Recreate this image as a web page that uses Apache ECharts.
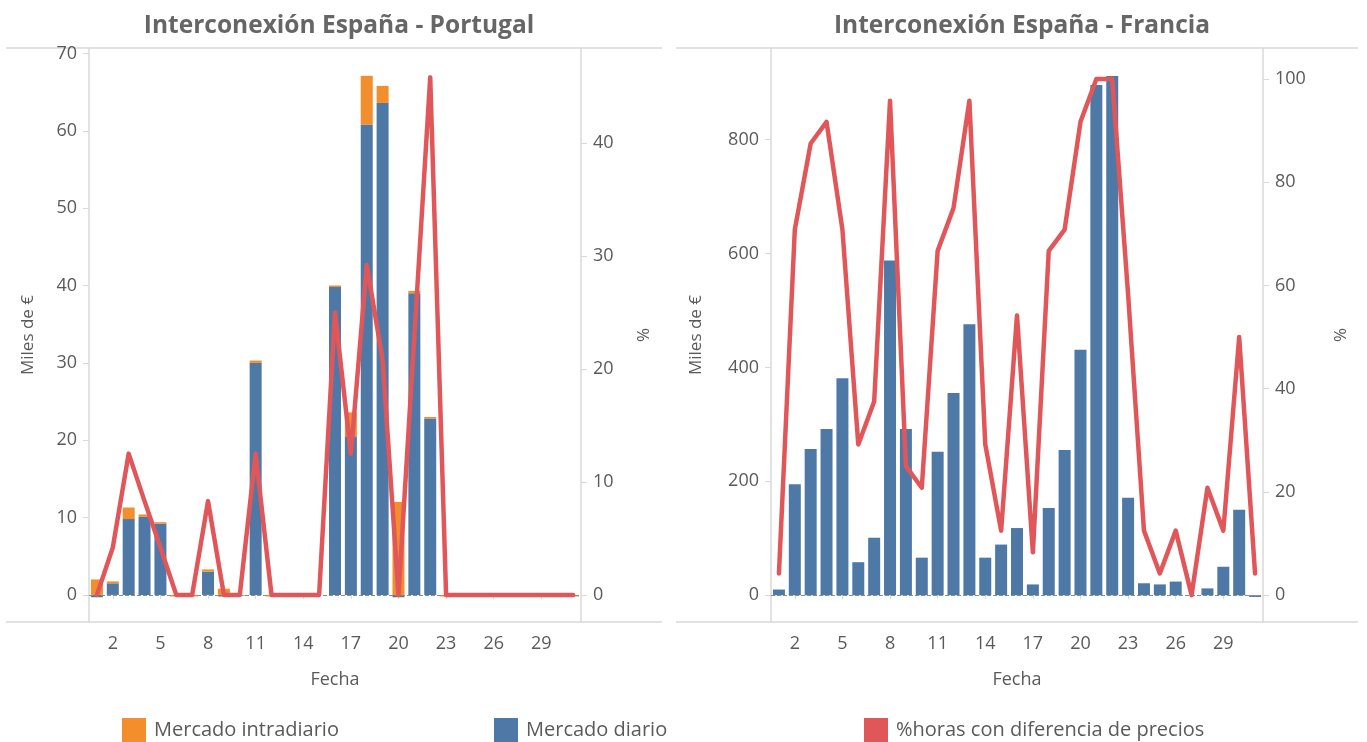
<!DOCTYPE html>
<html>
<head>
<meta charset="utf-8">
<title>Interconexiones</title>
<script src="https://cdn.jsdelivr.net/npm/echarts@6/dist/echarts.min.js"></script>
<style>
  html, body { margin: 0; padding: 0; background: #fff; }
  #main { width: 1367px; height: 742px; }
</style>
</head>
<body>
<div id="main"></div>
<script>
const dias = []
for (let d = 1; d <= 31; d++) dias.push(String(d))

// España - Portugal (miles de €)
const ptDiario = [-0.3, 1.5, 9.8, 10.1, 9.2, 0, 0, 3.0, -0.2, 0, 30.0, 0, 0, 0, 0, 39.8,
  20.5, 60.8, 63.6, -0.3, 39.0, 22.8, 0, 0, 0, 0, 0, 0, 0, 0, 0]
const ptIntradiario = [2.0, 0.25, 1.5, 0.3, 0.2, -0.2, -0.2, 0.3, 0.8, -0.1, 0.3, -0.2, 0, 0, 0, 0.2,
  3.1, 6.3, 2.2, 12.0, 0.3, 0.2, -0.2, 0, 0, 0, 0, 0, 0, 0, -0.2]
const ptHoras = [0, 4.2, 12.5, 8.3, 4.2, 0, 0, 8.3, 0, 0, 12.5, 0, 0, 0, 0, 25.0,
  12.5, 29.2, 20.8, 0, 22.9, 45.8, 0, 0, 0, 0, 0, 0, 0, 0, 0]

// España - Francia (miles de €)
const frDiario = [10, 195, 257, 292, 381, 58, 101, 588, 292, 66, 252, 355, 476, 66, 89, 118,
  19, 153, 255, 431, 896, 912, 171, 21, 19, 24, 0, 12, 50, 150, -3]
const frHoras = [4.2, 70.8, 87.5, 91.7, 70.8, 29.2, 37.5, 95.8, 25.0, 20.8, 66.7, 75.0, 95.8, 29.2, 12.5, 54.2,
  8.3, 66.7, 70.8, 91.7, 100, 100, 58.3, 12.5, 4.2, 12.5, 0, 20.8, 12.5, 50.0, 4.2]

const ptMilesTicks = [0, 10, 20, 30, 40, 50, 60, 70]
const ptPctTicks = [0, 10, 20, 30, 40]
const frMilesTicks = [0, 200, 400, 600, 800]
const frPctTicks = [0, 20, 40, 60, 80, 100]

const AZUL = '#4e79a7'
const NARANJA = '#f28e2b'
const ROJO = '#e15759'
const GRIS_EJE = '#d9d9d9'
const TEXTO = '#5a5a5a'
const FUENTE = '"Open Sans", Lato, sans-serif'

const chart = echarts.init(document.getElementById('main'))

function xAxisDe(grid) {
  return {
    type: 'category',
    gridIndex: grid,
    data: dias,
    name: 'Fecha',
    nameLocation: 'middle',
    nameGap: 49,
    nameTextStyle: { color: TEXTO, fontSize: 18, fontFamily: FUENTE },
    axisLine: { show: false },
    axisTick: {
      show: true,
      alignWithLabel: true,
      length: 4,
      interval: (i) => (i - 1) % 3 === 0,
      lineStyle: { color: GRIS_EJE }
    },
    axisLabel: {
      interval: (i) => (i - 1) % 3 === 0,
      color: TEXTO,
      fontSize: 18,
      fontFamily: FUENTE,
      margin: 13
    }
  }
}

function yAxisDe(grid, pos, min, max, ticks, name, nameGap, margin) {
  return {
    type: 'value',
    gridIndex: grid,
    position: pos,
    min: min,
    max: max,
    name: name,
    nameLocation: 'middle',
    nameRotate: 90,
    nameGap: nameGap,
    nameTextStyle: { color: TEXTO, fontSize: 17, fontFamily: FUENTE },
    splitLine: { show: false },
    axisLine: { show: true, lineStyle: { color: GRIS_EJE, width: 1.5 } },
    axisTick: { show: true, length: 6, customValues: ticks, lineStyle: { color: GRIS_EJE } },
    axisLabel: {
      customValues: ticks,
      color: TEXTO,
      fontSize: 18,
      fontFamily: FUENTE,
      margin: margin
    }
  }
}

const lineaCero = {
  silent: true,
  symbol: 'none',
  label: { show: false },
  lineStyle: { type: 'dashed', color: '#8c8c8c', width: 1 },
  data: [{ yAxis: 0 }]
}

const lineaRoja = {
  width: 4.5,
  color: ROJO,
  cap: 'round',
  join: 'round'
}

const textoTitulo = { color: '#666', fontSize: 24.5, fontWeight: 'bold', fontFamily: FUENTE }
const textoLeyenda = { color: TEXTO, fontSize: 20, fontFamily: FUENTE, padding: [0, 0, 0, 3] }

function leyenda(nombre, x) {
  return {
    data: [nombre], left: x, top: 718, padding: 0, icon: 'rect',
    itemWidth: 24, itemHeight: 24, textStyle: textoLeyenda
  }
}

chart.setOption({
  animation: false,
  title: [
    { text: 'Interconexión España - Portugal', left: 334, top: 9, textAlign: 'center', textStyle: textoTitulo },
    { text: 'Interconexión España - Francia', left: 1017, top: 9, textAlign: 'center', textStyle: textoTitulo }
  ],
  legend: [
    leyenda('Mercado intradiario', 122),
    leyenda('Mercado diario', 494),
    leyenda('%horas con diferencia de precios', 864)
  ],
  grid: [
    { left: 89, top: 48, width: 492, height: 574, outerBoundsMode: 'none' },
    { left: 771, top: 48, width: 492, height: 574, outerBoundsMode: 'none' }
  ],
  xAxis: [xAxisDe(0), xAxisDe(1)],
  yAxis: [
    yAxisDe(0, 'left', -3.5, 70.7, ptMilesTicks, 'Miles de €', 52, 12),
    yAxisDe(0, 'right', -2.4, 48.4, ptPctTicks, '%', 55, 12),
    yAxisDe(1, 'left', -47, 961, frMilesTicks, 'Miles de €', 66, 12),
    yAxisDe(1, 'right', -5.2, 106, frPctTicks, '%', 70, 12)
  ],
  graphic: [
    { type: 'line', shape: { x1: 6, y1: 48, x2: 662, y2: 48 }, style: { stroke: GRIS_EJE, lineWidth: 1.5 } },
    { type: 'line', shape: { x1: 676, y1: 48, x2: 1358, y2: 48 }, style: { stroke: GRIS_EJE, lineWidth: 1.5 } },
    { type: 'line', shape: { x1: 6, y1: 622, x2: 662, y2: 622 }, style: { stroke: GRIS_EJE, lineWidth: 1.5 } },
    { type: 'line', shape: { x1: 676, y1: 622, x2: 1358, y2: 622 }, style: { stroke: GRIS_EJE, lineWidth: 1.5 } }
  ],
  series: [
    {
      name: 'Mercado diario', type: 'bar', stack: 'pt', xAxisIndex: 0, yAxisIndex: 0,
      barWidth: 12, color: AZUL, data: ptDiario, markLine: lineaCero
    },
    {
      name: 'Mercado intradiario', type: 'bar', stack: 'pt', xAxisIndex: 0, yAxisIndex: 0,
      barWidth: 12, color: NARANJA, data: ptIntradiario
    },
    {
      name: '%horas con diferencia de precios', type: 'line', xAxisIndex: 0, yAxisIndex: 1,
      color: ROJO, showSymbol: false, z: 5, lineStyle: lineaRoja, data: ptHoras
    },
    {
      name: 'Mercado diario', type: 'bar', xAxisIndex: 1, yAxisIndex: 2,
      barWidth: 12, color: AZUL, data: frDiario, markLine: lineaCero
    },
    {
      name: '%horas con diferencia de precios', type: 'line', xAxisIndex: 1, yAxisIndex: 3,
      color: ROJO, showSymbol: false, z: 5, lineStyle: lineaRoja, data: frHoras
    }
  ]
})
</script>
</body>
</html>
